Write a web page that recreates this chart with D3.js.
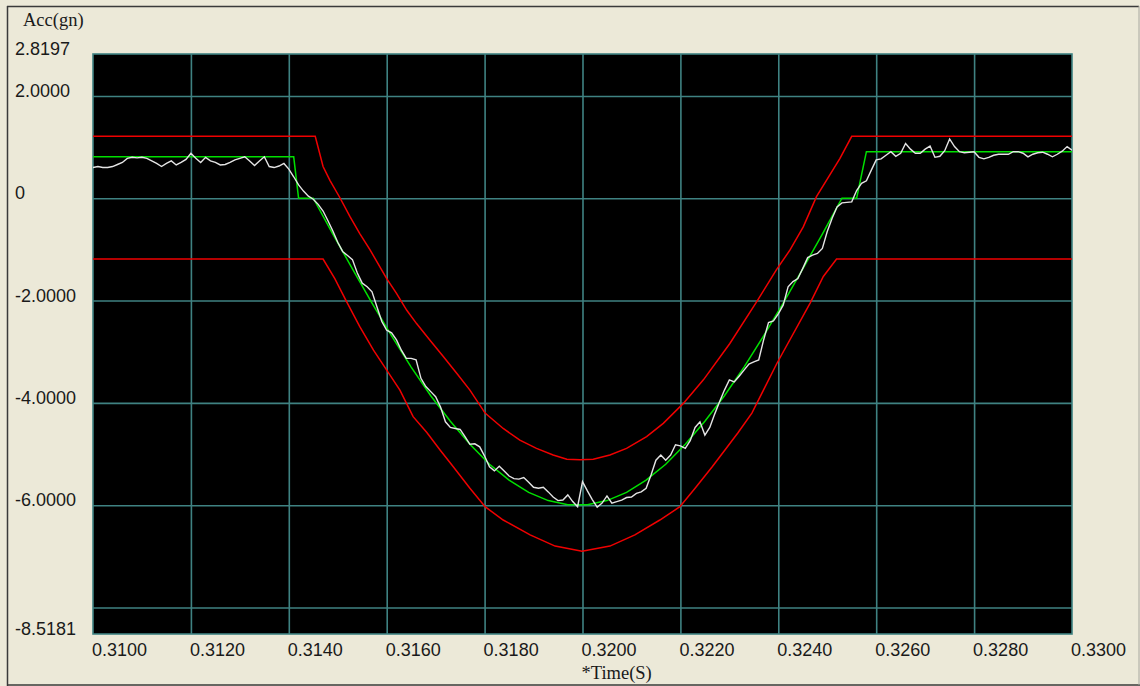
<!DOCTYPE html>
<html>
<head>
<meta charset="utf-8">
<script src="https://cdn.jsdelivr.net/npm/d3@7"></script>
<style>
  html, body { margin: 0; padding: 0; background: #ECE9D8; }
  svg { display: block; }
</style>
</head>
<body>
<svg id="chart" width="1140" height="686"></svg>
<script>
// ---------------- data ----------------
const xTicks = [0.31, 0.312, 0.314, 0.316, 0.318, 0.32, 0.322, 0.324, 0.326, 0.328, 0.33];
const xTickLabels = ["0.3100","0.3120","0.3140","0.3160","0.3180","0.3200","0.3220","0.3240","0.3260","0.3280","0.3300"];
const yGrid = [2, 0, -2, -4, -6, -8];
const yTickValues = [2.8197, 2, 0, -2, -4, -6, -8.5181];
const yTickLabels = ["2.8197","2.0000","0","-2.0000","-4.0000","-6.0000","-8.5181"];
const yTitle = "Acc(gn)";
const xTitle = "*Time(S)";

// measured acceleration (white), sampled every 0.1 ms from 0.3100 s
const measuredStart = 0.31;
const measuredStep = 0.0001;
const measured = [
  0.60,0.62,0.60,0.60,0.62,0.66,0.70,0.78,0.80,0.79,
  0.80,0.78,0.73,0.68,0.62,0.68,0.73,0.65,0.70,0.76,
  0.88,0.78,0.70,0.80,0.73,0.70,0.65,0.66,0.70,0.75,
  0.78,0.81,0.73,0.64,0.73,0.81,0.62,0.60,0.63,0.68,
  0.57,0.42,0.26,0.14,0.04,-0.02,-0.12,-0.25,-0.44,-0.64,
  -0.86,-1.04,-1.12,-1.20,-1.46,-1.66,-1.73,-1.83,-2.12,-2.41,
  -2.58,-2.63,-2.77,-2.97,-3.13,-3.13,-3.16,-3.52,-3.68,-3.78,
  -3.88,-4.08,-4.37,-4.48,-4.50,-4.52,-4.66,-4.81,-4.80,-4.86,
  -5.04,-5.25,-5.33,-5.24,-5.33,-5.43,-5.48,-5.49,-5.46,-5.55,
  -5.65,-5.67,-5.65,-5.74,-5.84,-5.91,-5.90,-5.80,-5.93,-6.03,
  -5.54,-5.72,-5.89,-6.04,-5.96,-5.82,-5.96,-5.93,-5.90,-5.85,
  -5.84,-5.77,-5.74,-5.67,-5.41,-5.12,-5.02,-5.12,-5.02,-4.82,
  -4.84,-4.89,-4.74,-4.48,-4.37,-4.63,-4.48,-4.22,-3.98,-3.75,
  -3.55,-3.59,-3.48,-3.36,-3.24,-3.20,-3.16,-2.77,-2.43,-2.40,
  -2.26,-2.09,-1.73,-1.63,-1.57,-1.37,-1.16,-1.11,-1.08,-0.98,
  -0.65,-0.39,-0.17,-0.09,-0.08,-0.07,0.15,0.29,0.34,0.55,
  0.75,0.77,0.84,0.91,0.82,0.88,1.07,0.96,0.88,0.88,
  0.96,1.02,0.80,0.82,0.93,1.16,1.01,0.91,0.89,0.90,
  0.91,0.80,0.77,0.80,0.84,0.86,0.86,0.86,0.91,0.91,
  0.88,0.81,0.86,0.89,0.90,0.86,0.81,0.86,0.92,1.01,
  0.94
];

// reference pulse (green)
const refTime = [0.3100,0.3141,0.3142,0.3145,0.3149,0.3153,0.3157,0.3161,0.3165,0.3169,0.3173,0.3177,0.3181,0.3185,0.3189,0.3193,0.3197,0.3201,0.3205,0.3209,0.3213,0.3217,0.3221,0.3225,0.3229,0.3233,0.3237,0.3241,0.3245,0.3249,0.3253,0.3256,0.3258,0.3300];
const refValue = [0.81,0.81,0,0,-0.70,-1.38,-2.05,-2.69,-3.30,-3.86,-4.36,-4.81,-5.20,-5.51,-5.75,-5.91,-5.99,-5.99,-5.91,-5.75,-5.51,-5.20,-4.81,-4.36,-3.86,-3.30,-2.69,-2.05,-1.38,-0.70,0,0,0.91,0.91];

// upper tolerance (red)
const upperTime = [0.3100,0.31454,0.31470,0.31484,0.31505,0.31525,0.31545,0.31566,0.31600,0.31620,0.31641,0.31661,0.31688,0.31716,0.31743,0.31770,0.31801,0.31838,0.31872,0.31906,0.31940,0.31968,0.31995,0.32022,0.32056,0.32090,0.32131,0.32165,0.32206,0.32247,0.32301,0.32356,0.32396,0.32424,0.32451,0.32478,0.32526,0.32550,0.3300];
const upperValue = [1.21,1.21,0.62,0.35,0.00,-0.36,-0.69,-1.01,-1.57,-1.86,-2.19,-2.45,-2.77,-3.10,-3.42,-3.75,-4.20,-4.50,-4.73,-4.89,-5.02,-5.10,-5.11,-5.10,-5.02,-4.89,-4.66,-4.40,-4.01,-3.55,-2.84,-2.02,-1.40,-1.01,-0.56,0.03,0.78,1.21,1.21];

// lower tolerance (red)
const lowerTime = [0.3100,0.31470,0.31494,0.31518,0.31545,0.31573,0.31600,0.31627,0.31654,0.31682,0.31709,0.31736,0.31770,0.31801,0.31838,0.31893,0.31944,0.31999,0.32056,0.32107,0.32158,0.32199,0.32230,0.32265,0.32291,0.32318,0.32346,0.32397,0.32465,0.32492,0.32519,0.3300];
const lowerValue = [-1.19,-1.19,-1.57,-2.02,-2.51,-2.97,-3.36,-3.75,-4.27,-4.58,-4.92,-5.25,-5.67,-6.03,-6.29,-6.58,-6.80,-6.90,-6.80,-6.58,-6.29,-6.03,-5.67,-5.25,-4.92,-4.58,-4.20,-3.23,-2.05,-1.53,-1.19,-1.19];

// ---------------- drawing ----------------
const W = 1140, H = 686;
const plot = { left: 93, right: 1072, top: 54, bottom: 634 };
const svg = d3.select("#chart");

const x = d3.scaleLinear().domain([0.31, 0.33]).range([plot.left, plot.right]);
const y = d3.scaleLinear().domain([-8.5181, 2.8197]).range([plot.bottom, plot.top]);

// background + window frame
svg.append("rect").attr("x", 0).attr("y", 0).attr("width", W).attr("height", H).attr("fill", "#ECE9D8");
svg.append("line").attr("x1", 7).attr("x2", 1139).attr("y1", 6.5).attr("y2", 6.5).attr("stroke", "#3a3a3a").attr("stroke-width", 1.5);
svg.append("line").attr("x1", 7.5).attr("x2", 7.5).attr("y1", 6).attr("y2", 686).attr("stroke", "#3a3a3a").attr("stroke-width", 1.5);
svg.append("line").attr("x1", 7).attr("x2", 1140).attr("y1", 685).attr("y2", 685).attr("stroke", "#3a3a3a").attr("stroke-width", 1.5);
svg.append("line").attr("x1", 1139).attr("x2", 1139).attr("y1", 6).attr("y2", 685).attr("stroke", "#a8a8a0").attr("stroke-width", 1);

// plot area
svg.append("rect")
  .attr("x", plot.left).attr("y", plot.top)
  .attr("width", plot.right - plot.left).attr("height", plot.bottom - plot.top)
  .attr("fill", "#000");

svg.append("defs").append("clipPath").attr("id", "clip")
  .append("rect")
  .attr("x", plot.left).attr("y", plot.top)
  .attr("width", plot.right - plot.left).attr("height", plot.bottom - plot.top);

const gridColor = "#3f8282";

// grid via axes
const gx = svg.append("g")
  .attr("transform", `translate(0,${plot.bottom})`)
  .call(d3.axisBottom(x).tickValues(xTicks.slice(1, -1)).tickSize(-(plot.bottom - plot.top)).tickFormat(""));
gx.select(".domain").remove();
gx.selectAll("line").attr("stroke", gridColor).attr("stroke-width", 1.6);

const gy = svg.append("g")
  .attr("transform", `translate(${plot.left},0)`)
  .call(d3.axisLeft(y).tickValues(yGrid).tickSize(-(plot.right - plot.left)).tickFormat(""));
gy.select(".domain").remove();
gy.selectAll("line").attr("stroke", gridColor).attr("stroke-width", 1.6);

// plot frame
svg.append("rect")
  .attr("x", plot.left).attr("y", plot.top)
  .attr("width", plot.right - plot.left).attr("height", plot.bottom - plot.top)
  .attr("fill", "none").attr("stroke", gridColor).attr("stroke-width", 1.6);

// series
const line = d3.line().x(d => x(d[0])).y(d => y(d[1]));
const series = svg.append("g").attr("clip-path", "url(#clip)");

const upper = upperTime.map((t, i) => [t, upperValue[i]]);
const lower = lowerTime.map((t, i) => [t, lowerValue[i]]);
const ref = refTime.map((t, i) => [t, refValue[i]]);
const meas = measured.map((v, i) => [measuredStart + i * measuredStep, v]);

series.append("path").datum(upper).attr("d", line)
  .attr("fill", "none").attr("stroke", "#f00000").attr("stroke-width", 1.5);
series.append("path").datum(lower).attr("d", line)
  .attr("fill", "none").attr("stroke", "#f00000").attr("stroke-width", 1.5);
series.append("path").datum(ref).attr("d", line)
  .attr("fill", "none").attr("stroke", "#00e000").attr("stroke-width", 1.5);
series.append("path").datum(meas).attr("d", line)
  .attr("fill", "none").attr("stroke", "#e4e4e4").attr("stroke-width", 1.4);

// tick labels
const labelFont = "'Liberation Sans', Arial, sans-serif";
svg.append("g").selectAll("text")
  .data(xTicks)
  .join("text")
  .attr("x", d => x(d) - 1)
  .attr("y", 656)
  .attr("font-family", labelFont)
  .attr("font-size", 18)
  .attr("fill", "#1a1a1a")
  .text((d, i) => xTickLabels[i]);

svg.append("g").selectAll("text")
  .data(yTickValues)
  .join("text")
  .attr("x", 15)
  .attr("y", d => y(d) + 1)
  .attr("font-family", labelFont)
  .attr("font-size", 18)
  .attr("fill", "#1a1a1a")
  .text((d, i) => yTickLabels[i]);

// titles
const serif = "'Liberation Serif', 'Times New Roman', serif";
svg.append("text").attr("x", 23).attr("y", 26)
  .attr("font-family", serif).attr("font-size", 18.5).attr("fill", "#1a1a1a")
  .text(yTitle);
svg.append("text").attr("x", x(0.32) - 1).attr("y", 679)
  .attr("font-family", serif).attr("font-size", 18.5).attr("fill", "#1a1a1a")
  .text(xTitle);
</script>
</body>
</html>
